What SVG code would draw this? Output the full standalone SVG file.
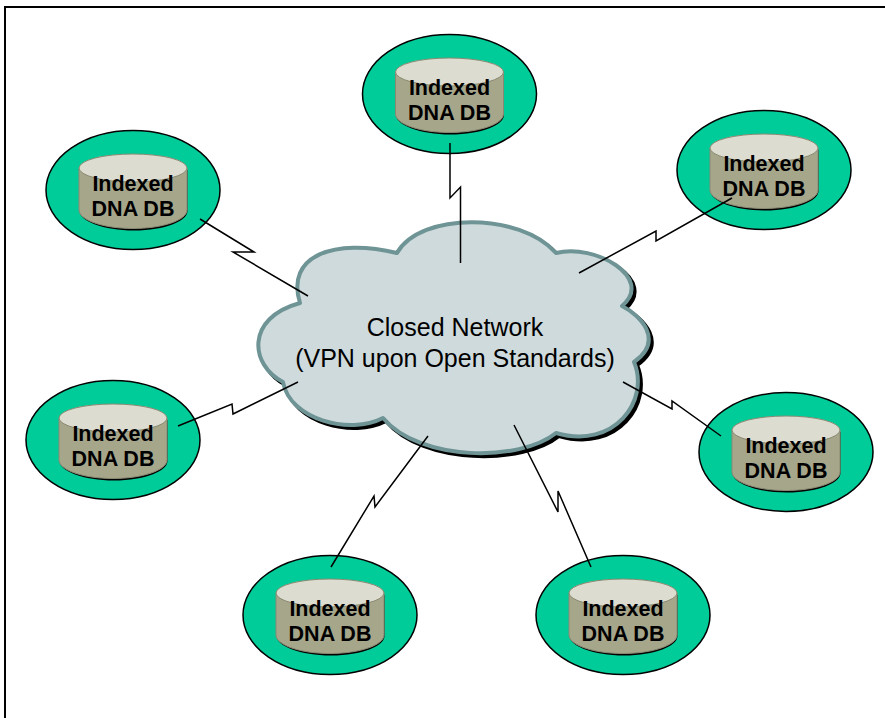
<svg xmlns="http://www.w3.org/2000/svg" width="885" height="718" viewBox="0 0 885 718">
<style>
.frame{fill:none;stroke:#000;stroke-width:2}
.halo{fill:#00cc99;stroke:#000;stroke-width:1.5}
.shadow{fill:#000}
.body{fill:#a6a68b;stroke:#8a8a72;stroke-width:1}
.top{fill:#dcdcd0;stroke:#8a8a72;stroke-width:1}
.label{font-family:"Liberation Sans",Arial,sans-serif;font-size:21.5px;font-weight:bold;fill:#000;text-anchor:middle}
.cloudtext{font-family:"Liberation Sans",Arial,sans-serif;font-size:25px;fill:#000;text-anchor:middle}
.link{fill:none;stroke:#000;stroke-width:1.5;stroke-linejoin:miter}
</style>
<defs>
<path id="cloudshape" d="M397,253C420,212 520,212 556,253C595,243 655,278 622,306C640,315 665,340 634,362C650,400 615,450 556,433C520,462 420,462 383,418C350,435 290,420 283,382C250,365 245,318 300,303C285,255 335,238 397,253Z"/>
<g id="db">
<ellipse class="halo" cx="0" cy="0" rx="87" ry="59.500"/>
<path class="shadow" d="M-53.500,-20V21C-53.500,31 -30,40.500 1,40.500C32,40.500 54.500,31 54.500,21V-20Z"/>
<path class="body" d="M-54,-22V20C-54,30 -30,38.500 0,38.500C30,38.500 54,30 54,20V-22Z"/>
<ellipse class="top" cx="0" cy="-22" rx="54" ry="14"/>
<text class="label" x="0" y="1">Indexed</text>
<text class="label" x="0" y="26">DNA DB</text>
</g>
</defs>
<rect class="frame" x="5" y="7" width="890" height="720"/>
<g id="cloud">
<use href="#cloudshape" transform="translate(3,3)" fill="#000" stroke="#000" stroke-width="4"/>
<use href="#cloudshape" fill="#cfdadc" stroke="#6f9496" stroke-width="4" stroke-linejoin="round"/>
<text class="cloudtext" x="455" y="336">Closed Network</text>
<text class="cloudtext" x="455" y="367">(VPN upon Open Standards)</text>
</g>
<g id="node1"><use href="#db" x="449.500" y="94"/></g>
<g id="node2"><use href="#db" x="764" y="170"/></g>
<g id="node3"><use href="#db" x="133" y="190"/></g>
<g id="node4"><use href="#db" x="113" y="440"/></g>
<g id="node5"><use href="#db" x="786" y="452"/></g>
<g id="node6"><use href="#db" x="330" y="615"/></g>
<g id="node7"><use href="#db" x="623" y="615"/></g>
<g id="connectors">
<polyline class="link" points="450,143 450,198 460.500,187 460.500,263"/>
<polyline class="link" points="579,273 656,231 656,241 732,198"/>
<polyline class="link" points="200,219 254,252 233,252 308,296"/>
<polyline class="link" points="178,426 232,404 233,414 298,382"/>
<polyline class="link" points="623,382 672,409 672,401 721,436"/>
<polyline class="link" points="428,436 375,507 374,496 331,567"/>
<polyline class="link" points="514,425 558,512 558,491 591,567"/>
</g>
</svg>
